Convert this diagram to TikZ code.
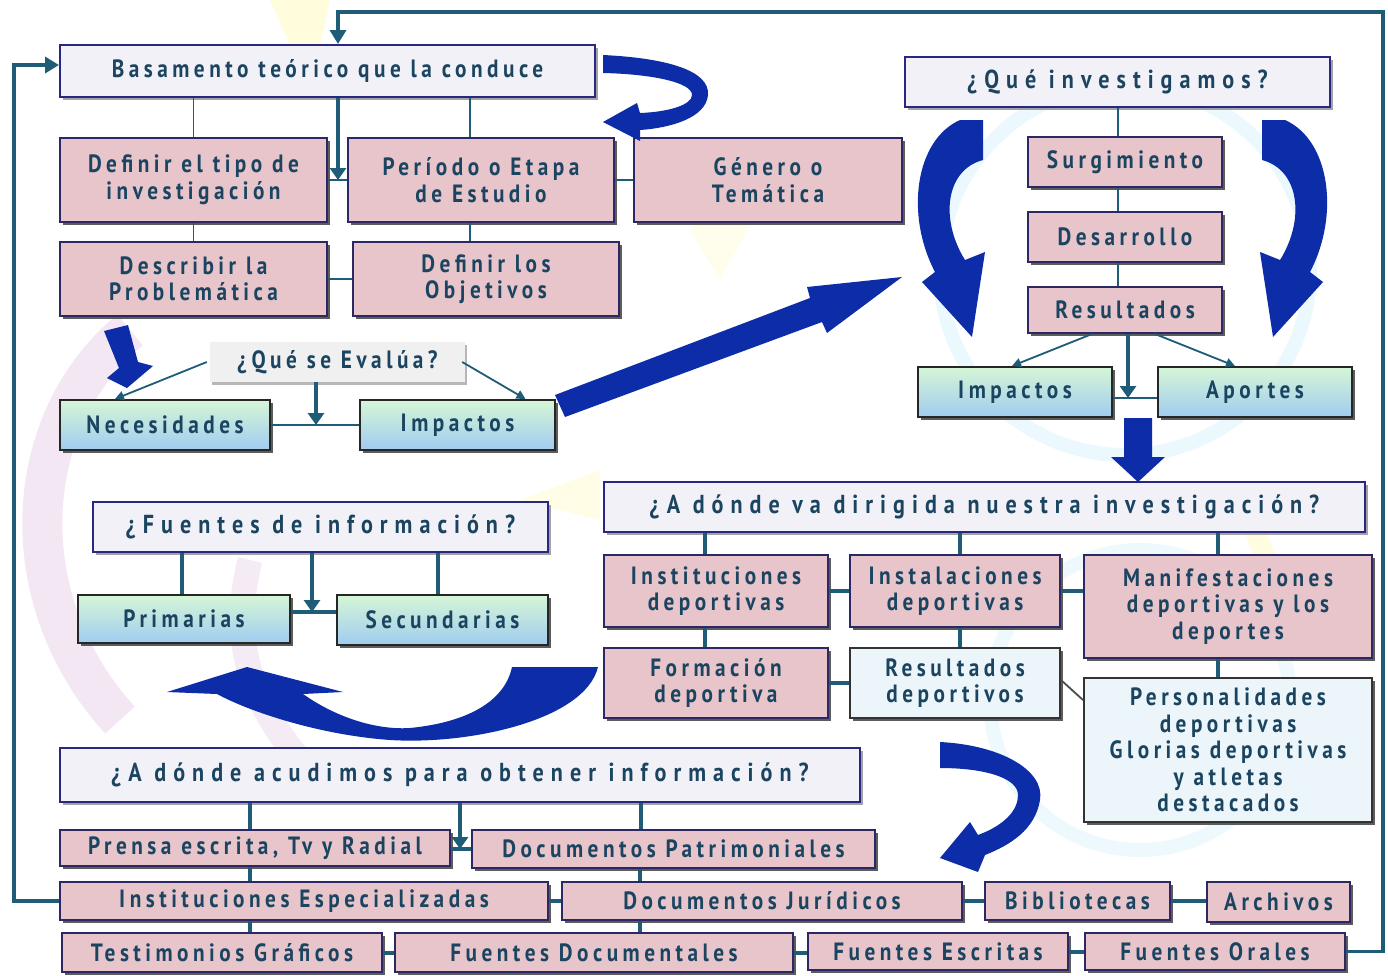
\documentclass[tikz,border=0pt]{standalone}
\usepackage{fontspec}
\usetikzlibrary{arrows.meta,shadows,calc}
\newfontfamily\boxfont{PT Sans}[FakeStretch=0.85,LetterSpace=18]
\newfontfamily\headfont{PT Sans}[FakeStretch=0.85,LetterSpace=27]
\definecolor{txt}{RGB}{26,68,96}
\definecolor{pinkf}{RGB}{231,197,203}
\definecolor{pinkd}{RGB}{44,40,100}
\definecolor{lightf}{RGB}{243,241,248}
\definecolor{lightd}{RGB}{40,40,130}
\definecolor{grtop}{RGB}{214,246,214}
\definecolor{grbot}{RGB}{160,204,240}
\definecolor{paleb}{RGB}{236,246,250}
\definecolor{lnk}{RGB}{30,92,120}
\definecolor{bigb}{RGB}{12,44,168}
\newcommand\bx[7]{%
  \pgfmathsetmacro\bxcx{(#3+#5)/2}\pgfmathsetmacro\bxcy{(#4+#6)/2}%
  \pgfmathsetmacro\bxw{#5-#3}\pgfmathsetmacro\bxh{#6-#4}%
  \node[#1, minimum width=\bxw pt, minimum height=\bxh pt] (#2) at (\bxcx,\bxcy) {#7};}
\tikzset{
  base/.style={inner sep=0pt, text=txt, align=center,
    font=\boxfont\bfseries\fontsize{25}{26.5}\selectfont},
  shad/.style={drop shadow={shadow xshift=3pt,shadow yshift=-3pt,fill=black!75,opacity=0.85}},
  pinkbox/.style={base, fill=pinkf, draw=pinkd, line width=2pt, shad},
  lightbox/.style={base, fill=lightf, draw=lightd, line width=2pt,
    drop shadow={shadow xshift=3pt,shadow yshift=-3pt,fill=black!45,opacity=0.8}},
  headbox/.style={lightbox, font=\headfont\bfseries\fontsize{26}{28}\selectfont},
  gradbox/.style={base, top color=grtop, bottom color=grbot, draw=black!85, line width=2pt, shad},
  palebox/.style={base, fill=paleb, draw=black!80, line width=2pt, shad},
  evbox/.style={base, fill=black!6,
    drop shadow={shadow xshift=2pt,shadow yshift=-3pt,fill=black!35,opacity=0.8}},
  conn/.style={draw=lnk, line width=1.8pt},
  connt/.style={draw=lnk, line width=4pt},
  tarrow/.style={draw=lnk, line width=4.5pt, -{Triangle[width=16pt,length=12pt]}},
  thinarrow/.style={draw=lnk, line width=1.8pt, -{Triangle[width=9pt,length=9pt]}},
  frame/.style={draw=lnk, line width=3.5pt},
  bigarrow/.style={fill=bigb},
}
\begin{document}
\begin{tikzpicture}[x=1pt,y=-1pt]
\fill[white] (0,0) rectangle (1388,975);
\useasboundingbox (0,0) rectangle (1388,975);
% faint background decoration
\fill[yellow!40, opacity=0.35] (270,0) -- (330,0) -- (320,45) -- (290,45) -- cycle;
\fill[yellow!35, opacity=0.2] (690,230) -- (760,150) -- (780,170) -- (720,280) -- cycle;
\fill[yellow!40, opacity=0.25] (520,500) -- (600,470) -- (600,520) -- cycle;
\draw[violet!30, line width=40pt, opacity=0.3] (130,330) .. controls (20,420) and (10,600) .. (120,720);
\draw[violet!25, line width=25pt, opacity=0.3] (250,560) .. controls (230,640) and (250,700) .. (300,760);
\draw[cyan!30, line width=14pt, opacity=0.25] (1125,270) circle[radius=185];
\draw[cyan!25, line width=14pt, opacity=0.25] (1140,700) circle[radius=150];
\draw[yellow!40, line width=20pt, opacity=0.3] (1250,520) -- (1300,640);

% ---------- top left ----------
\bx{lightbox}{bas}{60}{45}{595}{97}{Basamento teórico que la conduce}
\bx{pinkbox}{def}{60}{138}{327}{222}{Definir el tipo de\\investigación}
\bx{pinkbox}{per}{348}{138}{614}{222}{Período o Etapa\\de Estudio}
\bx{pinkbox}{gen}{634}{138}{902}{222}{Género o\\Temática}
\bx{pinkbox}{desc}{60}{242}{327}{316}{Describir la\\Problemática}
\bx{pinkbox}{obj}{353}{242}{619}{316}{Definir los\\Objetivos}

\draw[conn] (def.north) -- (def.north |- bas.south);
\draw[conn] ([xshift=-11pt]per.north) -- ([xshift=-11pt]per.north |- bas.south);
\draw[conn] (def.east) -- (per.west);
\coordinate (m1) at (338,180);
\draw[tarrow] (bas.south -| m1) -- (m1);
\draw[conn] (per.east) -- (gen.west);
\draw[conn] (def.south) -- (desc.north);
\draw[conn] ([xshift=-11pt]per.south) -- ([xshift=-11pt]per.south |- obj.north);
\draw[conn] (desc.east) -- (obj.west);

% self loop arrow
\fill[bigarrow] (603,55) .. controls (665,58) and (710,70) .. (708,95)
  .. controls (706,118) and (670,128) .. (640,130) -- (640,141) -- (603,122) -- (637,103) -- (640,113)
  .. controls (668,112) and (692,105) .. (692,95) .. controls (692,82) and (650,74) .. (603,73) -- cycle;

% ---------- evalua ----------
\bx{evbox}{eva}{210}{342}{465}{382}{¿Qué se Evalúa?}
\bx{gradbox}{nec}{60}{400}{270}{450}{Necesidades}
\bx{gradbox}{impa}{360}{400}{555}{450}{Impactos}
\coordinate (m2) at (316,425);
\draw[conn] (nec.east |- m2) -- (impa.west |- m2);
\draw[tarrow] (eva.south -| m2) -- (m2);
\draw[thinarrow] ([xshift=-3pt]eva.west) -- ([xshift=-50pt]nec.north);
\draw[thinarrow] ([xshift=-3pt]eva.east) -- ([xshift=68pt]impa.north);
% short thick arrow
\fill[bigarrow] (104,331) -- (128,325) -- (138,362) -- (153,366) -- (127,388) -- (107,378) -- (119,368) -- cycle;
% diagonal big arrow
\fill[bigarrow] (555,395) -- (810,298) -- (807,287) -- (902,277) -- (827,333) -- (822,322) -- (565,417) -- cycle;

% ---------- que investigamos ----------
\bx{headbox}{inv}{905}{57}{1330}{107}{¿Qué investigamos?}
\bx{pinkbox}{sur}{1028}{137}{1222}{187}{Surgimiento}
\bx{pinkbox}{des}{1028}{212}{1222}{262}{Desarrollo}
\bx{pinkbox}{res}{1028}{287}{1222}{333}{Resultados}
\bx{gradbox}{impb}{918}{367}{1112}{417}{Impactos}
\bx{gradbox}{apo}{1158}{367}{1352}{417}{Aportes}
\draw[conn] ([xshift=-7pt]sur.north) -- ([xshift=-7pt]sur.north |- inv.south);
\draw[conn] ([xshift=-7pt]des.north) -- ([xshift=-7pt]des.north |- sur.south);
\draw[conn] ([xshift=-7pt]res.north) -- ([xshift=-7pt]res.north |- des.south);
\coordinate (m3) at (1128,398);
\draw[conn] (impb.east |- m3) -- (apo.west |- m3);
\draw[tarrow] (res.south -| m3) -- (m3);
\draw[thinarrow] ([xshift=-33pt]res.south) -- ([xshift=-3pt]impb.north);
\draw[thinarrow] ([xshift=30pt]res.south) -- ([xshift=-20pt]apo.north);
% curved arrows
\fill[bigarrow] (960,120) .. controls (915,140) and (905,215) .. (935,272) -- (922,282) -- (972,337) -- (985,252) -- (965,260)
  .. controls (940,220) and (945,170) .. (983,160) -- (983,120) -- cycle;
\begin{scope}[shift={(2245,0)},xscale=-1]
\fill[bigarrow] (960,120) .. controls (915,140) and (905,215) .. (935,272) -- (922,282) -- (972,337) -- (985,252) -- (965,260)
  .. controls (940,220) and (945,170) .. (983,160) -- (983,120) -- cycle;
\end{scope}
% down arrow
\fill[bigarrow] (1124,418) -- (1152,418) -- (1152,457) -- (1165,457) -- (1138,482) -- (1111,457) -- (1124,457) -- cycle;

% ---------- dirigida ----------
\bx{headbox}{dir}{604}{482}{1365}{532}{¿A dónde va dirigida nuestra investigación?}
\bx{pinkbox}{insa}{604}{555}{828}{627}{Instituciones\\deportivas}
\bx{pinkbox}{insb}{850}{555}{1060}{627}{Instalaciones\\deportivas}
\bx{pinkbox}{man}{1084}{555}{1372}{658}{Manifestaciones\\deportivas y los\\deportes}
\bx{pinkbox}{form}{604}{648}{828}{718}{Formación\\deportiva}
\bx{palebox}{resd}{850}{648}{1060}{718}{Resultados\\deportivos}
\bx{palebox}{pers}{1084}{678}{1372}{822}{Personalidades\\deportivas\\Glorias deportivas\\y atletas\\destacados}
\draw[connt] ([xshift=-11pt]insa.north) -- ([xshift=-11pt]insa.north |- dir.south);
\draw[connt] ([xshift=5pt]insb.north) -- ([xshift=5pt]insb.north |- dir.south);
\draw[connt] ([xshift=-10pt]man.north) -- ([xshift=-10pt]man.north |- dir.south);
\draw[connt] (insa.east) -- (insb.west);
\draw[connt] (insb.east) -- (man.west |- insb.east);
\draw[connt] ([xshift=-11pt]insa.south) -- ([xshift=-11pt]insa.south |- form.north);
\draw[connt] ([xshift=5pt]insb.south) -- ([xshift=5pt]insb.south |- resd.north);
\draw[connt] ([xshift=-10pt]man.south) -- ([xshift=-10pt]man.south |- pers.north);
\draw[connt] (form.east) -- (resd.west);
\draw[conn, draw=black!70] ([yshift=3pt]resd.east) -- ([yshift=50pt]pers.west);

% ---------- fuentes ----------
\bx{headbox}{fue}{93}{502}{548}{552}{¿Fuentes de información?}
\bx{gradbox}{pri}{78}{595}{290}{643}{Primarias}
\bx{gradbox}{sec}{337}{595}{548}{645}{Secundarias}
\draw[connt] ([xshift=-2pt]pri.north) -- ([xshift=-2pt]pri.north |- fue.south);
\draw[connt] ([xshift=-5pt]sec.north) -- ([xshift=-5pt]sec.north |- fue.south);
\coordinate (m4) at (312,612);
\draw[connt] (pri.east |- m4) -- (sec.west |- m4);
\draw[tarrow] (fue.south -| m4) -- (m4);
% big U arrow
\fill[bigarrow] (512,667) -- (598,667) .. controls (585,720) and (470,745) .. (390,740)
  .. controls (320,735) and (250,712) .. (217,694) -- (167,692) -- (247,667) -- (343,692) -- (303,694)
  .. controls (340,720) and (380,730) .. (410,728) .. controls (470,722) and (505,700) .. (512,667) -- cycle;

% ---------- acudimos ----------
\bx{headbox}{acu}{60}{748}{860}{802}{¿A dónde acudimos para obtener información?}
\bx{pinkbox}{pre}{60}{830}{450}{866}{Prensa escrita, Tv y Radial}
\bx{pinkbox}{dpa}{472}{830}{875}{868}{Documentos Patrimoniales}
\bx{pinkbox}{ies}{60}{882}{548}{920}{Instituciones Especializadas}
\bx{pinkbox}{dju}{562}{882}{962}{920}{Documentos Jurídicos}
\bx{pinkbox}{bib}{985}{882}{1170}{920}{Bibliotecas}
\bx{pinkbox}{arc}{1207}{882}{1350}{922}{Archivos}
\bx{pinkbox}{tes}{62}{933}{382}{972}{Testimonios Gráficos}
\bx{pinkbox}{fdo}{395}{933}{793}{972}{Fuentes Documentales}
\bx{pinkbox}{fes}{808}{933}{1068}{970}{Fuentes Escritas}
\bx{pinkbox}{fora}{1085}{933}{1345}{970}{Fuentes Orales}
\draw[connt] ([xshift=-5pt]pre.north) -- ([xshift=-5pt]pre.north |- acu.south);
\draw[connt] ([xshift=-33pt]dpa.north) -- ([xshift=-33pt]dpa.north |- acu.south);
\coordinate (m5) at (460,849);
\draw[connt] (pre.east |- m5) -- (dpa.west |- m5);
\draw[tarrow] (acu.south -| m5) -- (m5);
\draw[connt] ([xshift=-54pt]ies.north) -- ([xshift=-54pt]ies.north |- pre.south);
\draw[connt] ([xshift=28pt]tes.north) -- ([xshift=28pt]tes.north |- ies.south);
\draw[connt] ([xshift=-122pt]dju.north) -- ([xshift=-122pt]dju.north |- dpa.south);
\draw[connt] ([xshift=46pt]fdo.north) -- ([xshift=46pt]fdo.north |- dju.south);
\draw[connt] (ies.east) -- (dju.west);
\draw[connt] (dju.east) -- (bib.west);
\draw[connt] (bib.east) -- (arc.west |- bib.east);
\draw[connt] (tes.east) -- (fdo.west);
\draw[connt] (fdo.east) -- (fes.west |- fdo.east);
\draw[connt] (fes.east) -- (fora.west);
% bottom right curved arrow
\fill[bigarrow] (940,742) .. controls (1000,745) and (1045,770) .. (1040,800)
  .. controls (1035,830) and (1010,845) .. (985,855) -- (978,872) -- (940,858) -- (970,822) -- (978,835)
  .. controls (1005,825) and (1018,810) .. (1018,795) .. controls (1018,778) and (985,768) .. (940,768) -- cycle;

% ---------- outer feedback lines ----------
\coordinate (tr) at (1383,12);
\coordinate (tl) at (14,65);
\draw[frame, -{Triangle[width=16pt,length=14pt]}] (fora.east) -| (tr) -| ([xshift=10.5pt]bas.north);
\draw[frame, -{Triangle[width=16pt,length=14pt]}] (ies.west) -| (tl) -- ([yshift=6pt]bas.west);
\end{tikzpicture}
\end{document}
